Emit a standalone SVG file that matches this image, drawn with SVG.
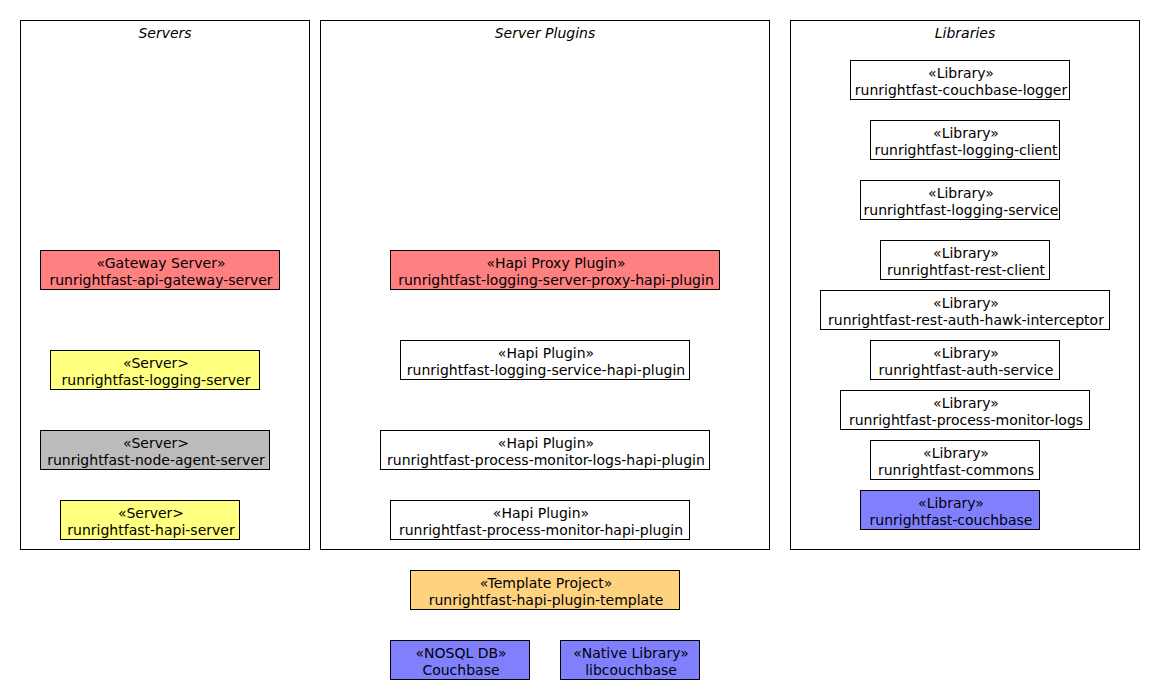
<svg xmlns="http://www.w3.org/2000/svg" width="1160" height="700" viewBox="0 0 1160 700">
<style>
text{font-family:"DejaVu Sans","Liberation Sans",sans-serif;font-size:14px;fill:#000;text-anchor:middle}
.title{font-style:italic}
.frame{fill:none;stroke:#000;stroke-width:1}
.n{stroke:#000;stroke-width:1;fill:#fff}
.red{fill:#FF8080}
.yel{fill:#FFFF80}
.gry{fill:#BBBBBB}
.blu{fill:#8080FF}
.org{fill:#FFD280}
</style>
<rect width="1160" height="700" fill="#fff"/>
<g id="frame-servers"><rect class="frame" x="20.5" y="20.5" width="289" height="529"/><text class="title" x="165" y="38">Servers</text></g>
<g id="frame-plugins"><rect class="frame" x="320.5" y="20.5" width="449" height="529"/><text class="title" x="545" y="38">Server Plugins</text></g>
<g id="frame-libraries"><rect class="frame" x="790.5" y="20.5" width="349" height="529"/><text class="title" x="965" y="38">Libraries</text></g>

<g id="gateway-server"><rect class="n red" x="40.5" y="250.5" width="239" height="39"/><text x="161" y="268">«Gateway Server»</text><text x="161" y="285">runrightfast-api-gateway-server</text></g>
<g id="logging-server"><rect class="n yel" x="50.5" y="350.5" width="209" height="39"/><text x="156" y="368">«Server&gt;</text><text x="156" y="385">runrightfast-logging-server</text></g>
<g id="node-agent-server"><rect class="n gry" x="40.5" y="430.5" width="229" height="39"/><text x="156" y="448">«Server&gt;</text><text x="156" y="465">runrightfast-node-agent-server</text></g>
<g id="hapi-server"><rect class="n yel" x="60.5" y="500.5" width="179" height="39"/><text x="151" y="518">«Server&gt;</text><text x="151" y="535">runrightfast-hapi-server</text></g>

<g id="proxy-plugin"><rect class="n red" x="390.5" y="250.5" width="329" height="39"/><text x="556" y="268">«Hapi Proxy Plugin»</text><text x="556" y="285">runrightfast-logging-server-proxy-hapi-plugin</text></g>
<g id="logging-service-plugin"><rect class="n" x="400.5" y="340.5" width="289" height="39"/><text x="546" y="358">«Hapi Plugin»</text><text x="546" y="375">runrightfast-logging-service-hapi-plugin</text></g>
<g id="pm-logs-plugin"><rect class="n" x="380.5" y="430.5" width="329" height="39"/><text x="546" y="448">«Hapi Plugin»</text><text x="546" y="465">runrightfast-process-monitor-logs-hapi-plugin</text></g>
<g id="pm-plugin"><rect class="n" x="390.5" y="500.5" width="299" height="39"/><text x="541" y="518">«Hapi Plugin»</text><text x="541" y="535">runrightfast-process-monitor-hapi-plugin</text></g>

<g id="lib-couchbase-logger"><rect class="n" x="850.5" y="60.5" width="219" height="39"/><text x="961" y="78">«Library»</text><text x="961" y="95">runrightfast-couchbase-logger</text></g>
<g id="lib-logging-client"><rect class="n" x="870.5" y="120.5" width="189" height="39"/><text x="966" y="138">«Library»</text><text x="966" y="155">runrightfast-logging-client</text></g>
<g id="lib-logging-service"><rect class="n" x="860.5" y="180.5" width="199" height="39"/><text x="961" y="198">«Library»</text><text x="961" y="215">runrightfast-logging-service</text></g>
<g id="lib-rest-client"><rect class="n" x="880.5" y="240.5" width="169" height="39"/><text x="966" y="258">«Library»</text><text x="966" y="275">runrightfast-rest-client</text></g>
<g id="lib-hawk"><rect class="n" x="820.5" y="290.5" width="289" height="39"/><text x="966" y="308">«Library»</text><text x="966" y="325">runrightfast-rest-auth-hawk-interceptor</text></g>
<g id="lib-auth-service"><rect class="n" x="870.5" y="340.5" width="189" height="39"/><text x="966" y="358">«Library»</text><text x="966" y="375">runrightfast-auth-service</text></g>
<g id="lib-pm-logs"><rect class="n" x="840.5" y="390.5" width="249" height="39"/><text x="966" y="408">«Library»</text><text x="966" y="425">runrightfast-process-monitor-logs</text></g>
<g id="lib-commons"><rect class="n" x="870.5" y="440.5" width="169" height="39"/><text x="956" y="458">«Library»</text><text x="956" y="475">runrightfast-commons</text></g>
<g id="lib-couchbase"><rect class="n blu" x="860.5" y="490.5" width="179" height="39"/><text x="951" y="508">«Library»</text><text x="951" y="525">runrightfast-couchbase</text></g>

<g id="template"><rect class="n org" x="410.5" y="570.5" width="269" height="39"/><text x="546" y="588">«Template Project»</text><text x="546" y="605">runrightfast-hapi-plugin-template</text></g>
<g id="couchbase-db"><rect class="n blu" x="390.5" y="640.5" width="139" height="39"/><text x="461" y="658">«NOSQL DB»</text><text x="461" y="675">Couchbase</text></g>
<g id="libcouchbase"><rect class="n blu" x="560.5" y="640.5" width="139" height="39"/><text x="631" y="658">«Native Library»</text><text x="631" y="675">libcouchbase</text></g>

<g id="connectors"></g>
</svg>
